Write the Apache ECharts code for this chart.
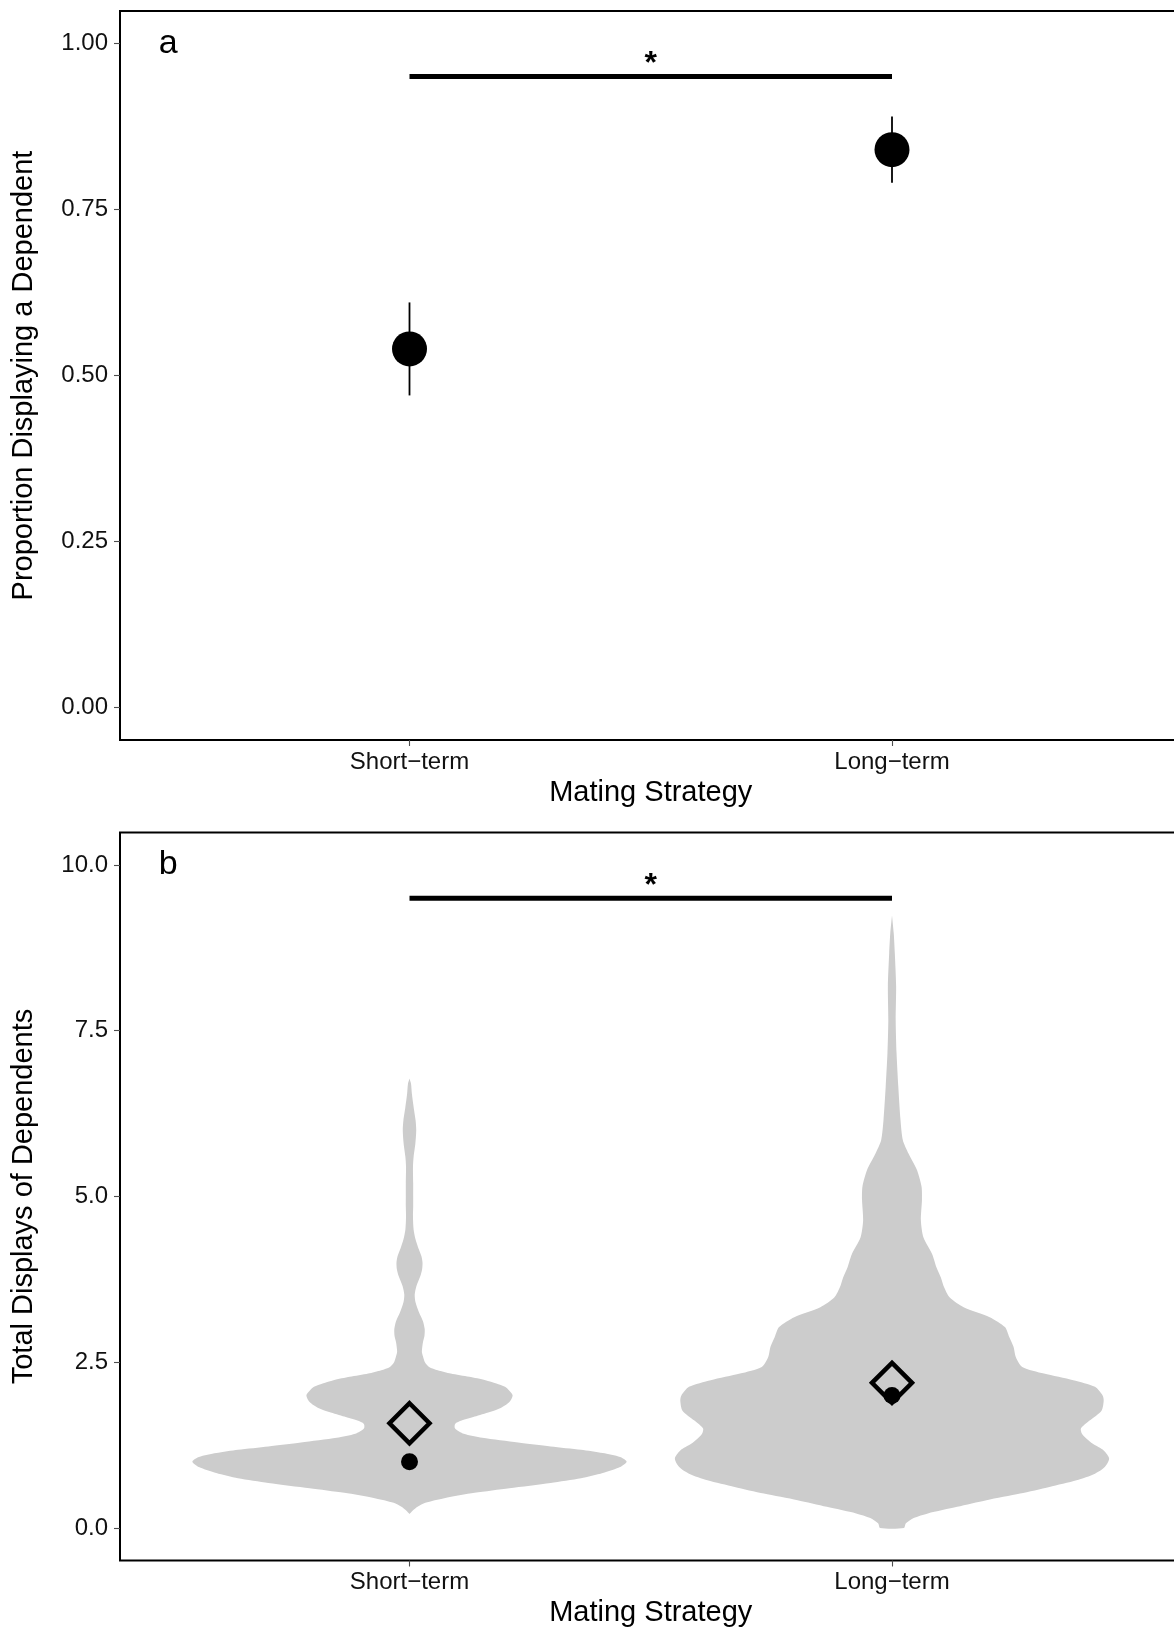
<!DOCTYPE html>
<html>
<head>
<meta charset="utf-8">
<script src="https://cdn.jsdelivr.net/npm/echarts@6/dist/echarts.min.js"></script>
<style>
  html, body { margin: 0; padding: 0; background: #ffffff; }
  #chart { width: 1174px; height: 1630px; }
</style>
</head>
<body>
<div id="chart"></div>
<script>
// ---- data ----
const categories = ['Short−term', 'Long−term'];

// panel a: proportion displaying a dependent (estimate with interval)
const proportionMean  = [0.54, 0.84];
const proportionLower = [0.47, 0.79];
const proportionUpper = [0.61, 0.89];
const proportionTicks = [0, 0.25, 0.5, 0.75, 1];

// panel b: total displays of dependents
const displaysMean   = [1.58, 2.19];
const displaysMedian = [1, 2];
const displayTicks   = [0, 2.5, 5, 7.5, 10];

// violin outlines: y values and density relative to the widest point
const shortViolinY = [0.21, 0.26, 0.32, 0.38, 0.45, 0.53, 0.60, 0.68, 0.75, 0.83, 0.92, 1.00,
  1.07, 1.13, 1.18, 1.23, 1.29, 1.36, 1.42, 1.50, 1.57, 1.62, 1.68, 1.75, 1.81, 1.90, 2.00,
  2.07, 2.13, 2.18, 2.23, 2.28, 2.33, 2.38, 2.43, 2.50, 2.59, 2.66, 2.80, 2.90, 3.00, 3.12,
  3.25, 3.40, 3.52, 3.65, 3.80, 3.90, 4.00, 4.10, 4.22, 4.35, 4.50, 4.70, 4.85, 5.00, 5.20,
  5.45, 5.60, 5.80, 6.00, 6.15, 6.35, 6.55, 6.70, 6.78];
const shortViolinDensity = [0, 0.014, 0.037, 0.073, 0.16, 0.30, 0.46, 0.65, 0.79, 0.89, 0.97, 1.0,
  0.97, 0.89, 0.79, 0.65, 0.50, 0.335, 0.25, 0.21, 0.21, 0.24, 0.30, 0.37, 0.42, 0.46, 0.475,
  0.46, 0.44, 0.40, 0.35, 0.275, 0.19, 0.13, 0.09, 0.071, 0.062, 0.057, 0.062, 0.069, 0.070, 0.062,
  0.044, 0.028, 0.024, 0.032, 0.05, 0.058, 0.06, 0.055, 0.041, 0.028, 0.019, 0.016, 0.017, 0.017, 0.017,
  0.016, 0.019, 0.027, 0.031, 0.028, 0.019, 0.011, 0.007, 0];

const longViolinY = [0.00, 0.07, 0.15, 0.22, 0.32, 0.42, 0.52, 0.62, 0.72, 0.82, 0.92, 1.05,
  1.17, 1.27, 1.35, 1.42, 1.50, 1.62, 1.77, 1.92, 2.00, 2.13, 2.23, 2.33, 2.43, 2.58, 2.73,
  2.88, 3.03, 3.18, 3.33, 3.48, 3.63, 3.78, 3.93, 4.13, 4.38, 4.64, 4.95, 5.15, 5.40, 5.65,
  5.85, 6.16, 6.66, 7.16, 7.66, 8.17, 8.67, 8.97, 9.24];
const longViolinDensity = [0.055, 0.064, 0.10, 0.165, 0.30, 0.435, 0.59, 0.725, 0.85, 0.935, 0.98, 1.0,
  0.975, 0.925, 0.895, 0.875, 0.87, 0.91, 0.965, 0.975, 0.97, 0.935, 0.835, 0.70, 0.60, 0.57, 0.56,
  0.54, 0.52, 0.45, 0.33, 0.265, 0.24, 0.225, 0.205, 0.185, 0.145, 0.133, 0.138, 0.136, 0.115, 0.076,
  0.05, 0.039, 0.029, 0.021, 0.017, 0.019, 0.013, 0.008, 0];

// significance brackets and annotations
const sigBarProportion = 0.95;
const sigBarDisplays = 9.5;
const sigStarProportion = 0.968;
const sigStarDisplays = 9.68;
const panelTags = ['a', 'b'];
const panelTagY = [1.0, 10];

// ---- chart ----
const FONT = '"Liberation Sans", Arial, Helvetica, sans-serif';
const violinY = [shortViolinY, longViolinY];
const violinDensity = [shortViolinDensity, longViolinDensity];
const VIOLIN_HALF_WIDTH = 0.45;

const chart = echarts.init(document.getElementById('chart'), null, { renderer: 'canvas' });

function xAxisFor(gridIndex) {
  return {
    type: 'value', gridIndex: gridIndex, min: 0.4, max: 2.6,
    name: 'Mating Strategy', nameLocation: 'middle', nameGap: 38,
    nameTextStyle: { fontFamily: FONT, fontSize: 29, color: '#000' },
    axisLine: { show: false, onZero: false },
    splitLine: { show: false },
    axisTick: { show: true, customValues: [1, 2], length: 6, lineStyle: { color: '#4d4d4d', width: 1.1 } },
    axisLabel: {
      customValues: [1, 2], margin: 10, fontFamily: FONT, fontSize: 24, color: '#111',
      formatter: function (v) { return categories[Math.round(v) - 1]; }
    }
  };
}

function yAxisFor(gridIndex, name, min, max, ticks, digits) {
  return {
    type: 'value', gridIndex: gridIndex, min: min, max: max,
    name: name, nameLocation: 'middle', nameGap: 82, nameRotate: 90,
    nameTextStyle: { fontFamily: FONT, fontSize: 29, color: '#000' },
    axisLine: { show: false, onZero: false },
    splitLine: { show: false },
    axisTick: { show: true, customValues: ticks, length: 6, lineStyle: { color: '#4d4d4d', width: 1.1 } },
    axisLabel: {
      customValues: ticks, margin: 12, fontFamily: FONT, fontSize: 24, color: '#111',
      formatter: function (v) { return v.toFixed(digits); }
    }
  };
}

function textSeries(gridIndex, items, font) {
  return {
    type: 'custom', xAxisIndex: gridIndex, yAxisIndex: gridIndex, silent: true, z: 10,
    data: items.map(function (d) { return [d[0], d[1]]; }),
    renderItem: function (params, api) {
      const p = api.coord([api.value(0), api.value(1)]);
      return {
        type: 'text',
        style: {
          text: items[params.dataIndex][2], x: p[0], y: p[1],
          font: font, fill: '#000',
          textAlign: 'center', textVerticalAlign: 'middle'
        }
      };
    }
  };
}

function sigBarSeries(gridIndex, y) {
  return {
    type: 'line', xAxisIndex: gridIndex, yAxisIndex: gridIndex, silent: true,
    showSymbol: false, symbol: 'none', z: 5,
    lineStyle: { color: '#000', width: 5, cap: 'butt' },
    data: [[1, y], [2, y]]
  };
}

const gridCommon = {
  left: 120, width: 1061.5, show: true, borderColor: '#000', borderWidth: 2,
  backgroundColor: 'transparent', containLabel: false, outerBoundsMode: 'none'
};

const option = {
  animation: false,
  backgroundColor: '#ffffff',
  grid: [
    Object.assign({}, gridCommon, { top: 11, height: 729 }),
    Object.assign({}, gridCommon, { top: 832.5, height: 728 })
  ],
  xAxis: [xAxisFor(0), xAxisFor(1)],
  yAxis: [
    yAxisFor(0, 'Proportion Displaying a Dependent', -0.0487, 1.0487, proportionTicks, 2),
    yAxisFor(1, 'Total Displays of Dependents', -0.49, 10.49, displayTicks, 1)
  ],
  series: [
    // panel a: intervals
    {
      type: 'custom', xAxisIndex: 0, yAxisIndex: 0, silent: true, z: 3,
      data: categories.map(function (c, i) { return [i + 1, proportionLower[i], proportionUpper[i]]; }),
      renderItem: function (params, api) {
        const a = api.coord([api.value(0), api.value(1)]);
        const b = api.coord([api.value(0), api.value(2)]);
        return {
          type: 'line',
          shape: { x1: a[0], y1: a[1], x2: b[0], y2: b[1] },
          style: { stroke: '#000', lineWidth: 1.8 }
        };
      }
    },
    // panel a: estimates
    {
      type: 'scatter', xAxisIndex: 0, yAxisIndex: 0, silent: true, z: 4,
      symbol: 'circle', symbolSize: 35, itemStyle: { color: '#000', opacity: 1 },
      data: categories.map(function (c, i) { return [i + 1, proportionMean[i]]; })
    },
    sigBarSeries(0, sigBarProportion),
    textSeries(0, [[1.5, sigStarProportion, '*']], 'bold 32px ' + FONT),
    textSeries(0, [[0.5, panelTagY[0], panelTags[0]]], '34px ' + FONT),

    // panel b: violins
    {
      type: 'custom', xAxisIndex: 1, yAxisIndex: 1, silent: true, z: 2,
      data: categories.map(function (c, i) { return [i + 1, i]; }),
      renderItem: function (params, api) {
        const x = api.value(0);
        const ys = violinY[params.dataIndex];
        const ds = violinDensity[params.dataIndex];
        const pts = [];
        for (let k = 0; k < ys.length; k++) {
          pts.push(api.coord([x + ds[k] * VIOLIN_HALF_WIDTH, ys[k]]));
        }
        for (let k = ys.length - 1; k >= 0; k--) {
          pts.push(api.coord([x - ds[k] * VIOLIN_HALF_WIDTH, ys[k]]));
        }
        return {
          type: 'polygon',
          shape: { points: pts, smooth: 0.25 },
          style: { fill: '#cccccc', stroke: null }
        };
      }
    },
    // panel b: medians
    {
      type: 'scatter', xAxisIndex: 1, yAxisIndex: 1, silent: true, z: 4,
      symbol: 'circle', symbolSize: 17, itemStyle: { color: '#000', opacity: 1 },
      data: categories.map(function (c, i) { return [i + 1, displaysMedian[i]]; })
    },
    // panel b: means
    {
      type: 'scatter', xAxisIndex: 1, yAxisIndex: 1, silent: true, z: 5,
      symbol: 'diamond', symbolSize: 40,
      itemStyle: { color: 'rgba(0,0,0,0)', borderColor: '#000', borderWidth: 4.5, opacity: 1 },
      data: categories.map(function (c, i) { return [i + 1, displaysMean[i]]; })
    },
    sigBarSeries(1, sigBarDisplays),
    textSeries(1, [[1.5, sigStarDisplays, '*']], 'bold 32px ' + FONT),
    textSeries(1, [[0.5, panelTagY[1], panelTags[1]]], '34px ' + FONT)
  ]
};

chart.setOption(option);
</script>
</body>
</html>
